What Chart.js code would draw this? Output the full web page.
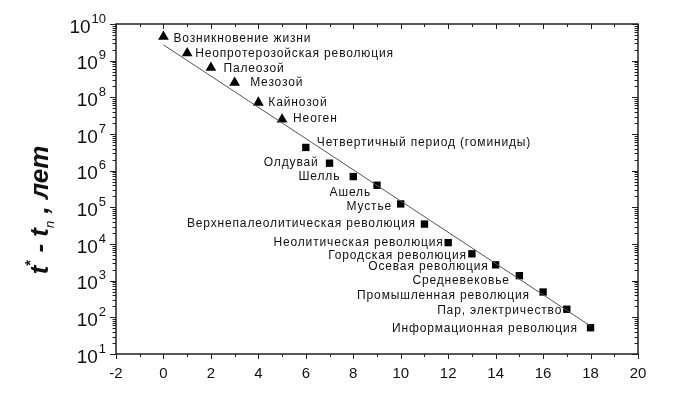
<!DOCTYPE html>
<html lang="ru">
<head>
<meta charset="UTF-8">
<title>Этапы эволюции</title>
<script src="https://cdn.jsdelivr.net/npm/chart.js"></script>
<style>
    body { margin: 0; background: #fff; }
    #wrap { width: 698px; height: 393px; }
</style>
</head>
<body>
<div id="wrap"><canvas id="chart" width="698" height="393"></canvas></div>
<script>
    // stage number n and the time t* - t_n (years)
    const stageNames = [
        'Возникновение жизни', 'Неопротерозойская революция', 'Палеозой', 'Мезозой',
        'Кайнозой', 'Неоген', 'Четвертичный период (гоминиды)', 'Олдувай', 'Шелль',
        'Ашель', 'Мустье', 'Верхнепалеолитическая революция', 'Неолитическая революция',
        'Городская революция', 'Осевая революция', 'Средневековье', 'Промышленная революция',
        'Пар, электричество', 'Информационная революция'
    ];
    const triangleStages = [0, 1, 2, 3, 4, 5];
    const triangleValues = [4.5e9, 1.6e9, 6.4e8, 2.5e8, 7.2e7, 2.5e7];
    const squareStages = [6, 7, 8, 9, 10, 11, 12, 13, 14, 15, 16, 17, 18];
    const squareValues = [4.3e6, 1.6e6, 6.9e5, 4.0e5, 1.24e5, 3.5e4, 1.09e4, 5.4e3, 2.7e3, 1.37e3, 490, 166, 52];
    const fitStages = [0, 18];
    const fitValues = [2.7e9, 58];
    const xTickValues = [-2, 0, 2, 4, 6, 8, 10, 12, 14, 16, 18, 20];
    const yDecades = [1, 2, 3, 4, 5, 6, 7, 8, 9, 10];

    // label placement relative to its marker: [dx, dy, align]
    const labelOffsets = [
        [10, 2, 'left'], [8, 0.5, 'left'], [12.5, 0.5, 'left'], [15.5, 0, 'left'],
        [10, 0, 'left'], [11, -0.5, 'left'], [11, -5, 'left'], [-11, 0, 'right'],
        [-13, 0.5, 'right'], [-6, 7, 'right'], [-8.7, 2.7, 'right'], [-8.5, 0, 'right'],
        [-4.5, 0, 'right'], [-5, 2, 'right'], [-7, 2, 'right'], [-9.6, 5, 'right'],
        [-13.3, 3.7, 'right'], [-4.6, 1.7, 'right'], [-12.7, 1.3, 'right']
    ];

    const FONT = '"Liberation Sans", Arial, sans-serif';
    const INK = '#111';

    function seg(ctx, x1, y1, x2, y2) {
        ctx.beginPath(); ctx.moveTo(x1, y1); ctx.lineTo(x2, y2); ctx.stroke();
    }

    const framePlugin = {
        id: 'frame',
        afterDraw(chart) {
            const { ctx, chartArea: a, scales: { x, y } } = chart;
            ctx.save();
            ctx.strokeStyle = '#222';
            ctx.lineWidth = 1;

            // x ticks: outward at bottom, inward at top
            for (let v = -2; v <= 20; v++) {
                const px = Math.round(x.getPixelForValue(v)) + 0.5;
                const len = v % 2 === 0 ? 5 : 3;
                seg(ctx, px, a.bottom, px, a.bottom + len);
                seg(ctx, px, a.top, px, a.top + len);
            }
            // y ticks: outward at left, inward at right
            yDecades.forEach(e => {
                const py = Math.round(y.getPixelForValue(Math.pow(10, e))) + 0.5;
                seg(ctx, a.left - 6, py, a.left, py);
                seg(ctx, a.right, py, a.right - 6, py);
                if (e < 10) {
                    for (let k = 2; k <= 9; k++) {
                        const pm = Math.round(y.getPixelForValue(k * Math.pow(10, e))) + 0.5;
                        seg(ctx, a.left - 3.5, pm, a.left, pm);
                        seg(ctx, a.right, pm, a.right - 3.5, pm);
                    }
                }
            });

            ctx.lineWidth = 1.5;
            ctx.strokeRect(a.left, a.top, a.right - a.left, a.bottom - a.top);

            // y tick labels 10^e
            ctx.fillStyle = INK;
            ctx.textBaseline = 'alphabetic';
            yDecades.forEach(e => {
                const py = y.getPixelForValue(Math.pow(10, e));
                ctx.font = '13px ' + FONT;
                const ew = ctx.measureText(String(e)).width;
                const right = a.left - 10;
                ctx.textAlign = 'right';
                ctx.fillText(String(e), right, py - 1.5);
                ctx.font = '19px ' + FONT;
                ctx.fillText('10', right - ew - 1, py + 8.5);
            });

            // axis title, rotated
            ctx.save();
            ctx.translate(48, 210);
            ctx.rotate(-Math.PI / 2);
            ctx.textAlign = 'left';
            const parts = [
                { t: 't', f: 'italic bold 26px ', dy: 0 },
                { t: '*', f: 'bold 15px ', dy: -13 },
                { t: ' - ', f: 'italic bold 26px ', dy: 0 },
                { t: 't', f: 'italic bold 26px ', dy: 0 },
                { t: 'n', f: 'italic 13px ', dy: 6 },
                { t: ' , ', f: 'italic bold 26px ', dy: 0 },
                { t: 'лет', f: 'italic bold 26px ', dy: 0 }
            ];
            let total = 0;
            parts.forEach(p => { ctx.font = p.f + FONT; p.w = ctx.measureText(p.t).width; total += p.w; });
            let cx = -total / 2;
            parts.forEach(p => { ctx.font = p.f + FONT; ctx.fillText(p.t, cx, p.dy); cx += p.w; });
            ctx.restore();

            // stage labels
            ctx.font = '12px ' + FONT;
            ctx.letterSpacing = '0.85px';
            ctx.textBaseline = 'middle';
            stageNames.forEach((name, n) => {
                const value = n < triangleStages.length ? triangleValues[n] : squareValues[n - triangleStages.length];
                const [dx, dy, align] = labelOffsets[n];
                ctx.textAlign = align;
                ctx.fillText(name, x.getPixelForValue(n) + dx, y.getPixelForValue(value) + dy);
            });
            ctx.restore();
        }
    };

    new Chart(document.getElementById('chart'), {
        type: 'scatter',
        data: {
            datasets: [
                {
                    type: 'line',
                    data: fitStages.map((s, i) => ({ x: s, y: fitValues[i] })),
                    borderColor: '#555', borderWidth: 1, pointRadius: 0, fill: false
                },
                {
                    data: triangleStages.map((s, i) => ({ x: s, y: triangleValues[i] })),
                    pointStyle: 'triangle', pointRadius: 6.2,
                    backgroundColor: '#000', borderColor: '#000', borderWidth: 0
                },
                {
                    data: squareStages.map((s, i) => ({ x: s, y: squareValues[i] })),
                    pointStyle: 'rect', pointRadius: 5.2,
                    backgroundColor: '#000', borderColor: '#000', borderWidth: 0
                }
            ]
        },
        options: {
            responsive: false,
            animation: false,
            devicePixelRatio: 1,
            layout: { padding: { top: 24, right: 60, left: 0, bottom: 0 } },
            plugins: { legend: { display: false }, tooltip: { enabled: false } },
            scales: {
                x: {
                    type: 'linear', min: -2, max: 20,
                    afterBuildTicks: s => { s.ticks = xTickValues.map(v => ({ value: v })); },
                    afterFit: s => { s.height = 39; },
                    grid: { display: false, drawTicks: true, tickLength: 5 },
                    border: { display: false },
                    ticks: { color: INK, font: { family: FONT, size: 15 }, padding: 6, maxRotation: 0, autoSkip: false }
                },
                y: {
                    type: 'logarithmic', min: 10, max: 1e10,
                    afterFit: s => { s.width = 116; },
                    grid: { display: false },
                    border: { display: false },
                    ticks: { display: false }
                }
            }
        },
        plugins: [framePlugin]
    });
</script>
</body>
</html>
